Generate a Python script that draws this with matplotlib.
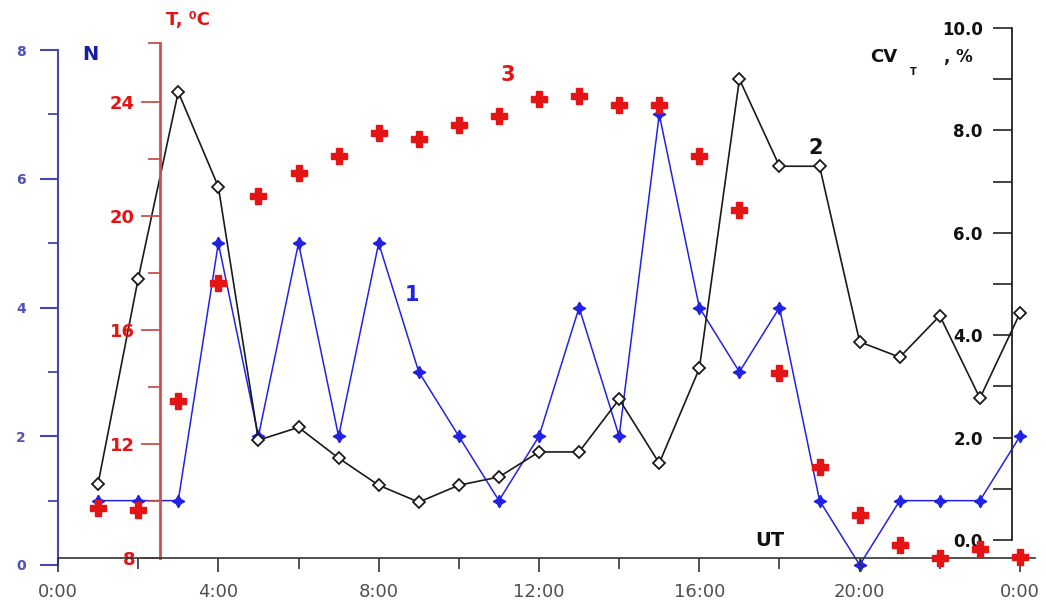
import numpy as np
import matplotlib
matplotlib.use('Agg')
from matplotlib import pyplot as plt

# hours UT
hours = np.arange(1, 25)
# 1: number N
n_vals = [1, 1, 1, 5, 2, 5, 2, 5, 3, 2, 1, 2, 4, 2, 7, 4, 3, 4, 1, 0, 1, 1, 1, 2]
# 2: CV_T, %
cv_vals = [1.1, 5.1, 8.75, 6.9, 1.95, 2.2, 1.6, 1.07, 0.74, 1.07, 1.23, 1.72,
           1.72, 2.75, 1.5, 3.35, 9.0, 7.3, 7.3, 3.87, 3.57, 4.38, 2.77, 4.43]
# 3: temperature T, C
t_vals = [9.75, 9.7, 13.5, 17.65, 20.7, 21.5, 22.1, 22.9, 22.7, 23.2, 23.5, 24.1,
          24.2, 23.9, 23.9, 22.1, 20.2, 14.5, 11.2, 9.5, 8.45, 8.0, 8.3, 8.05]

x_ticks = [0, 4, 8, 12, 16, 20, 24]
x_labels = ['0:00', '4:00', '8:00', '12:00', '16:00', '20:00', '0:00']

W, H = 1046, 610
BLUE = '#2222e6'
BLUE_AX = '#4848a8'
RED = '#e41414'
RED_AX = '#cc5050'


def px(x0, y0, x1, y1):
    # pixel box -> figure fraction [left, bottom, width, height]
    return [x0 / W, 1 - y1 / H, (x1 - x0) / W, (y1 - y0) / H]


fig = plt.figure(figsize=(W / 100, H / 100), dpi=100)

x_left, x_right = 58, 1035
x_max = 24 * (x_right - x_left) / (1020 - x_left)

# temperature axes carries the time axis
ax_t = fig.add_axes(px(x_left, 43, x_right, 558))
ax_n = fig.add_axes(px(x_left, 50, x_right, 565))
ax_cv = fig.add_axes(px(x_left, 28, x_right, 540))

for ax in (ax_t, ax_n, ax_cv):
    ax.set_xlim(0, x_max)
    ax.patch.set_visible(False)
    for s in ax.spines.values():
        s.set_visible(False)

ax_t.set_ylim(8, 8 + (558 - 43) / 28.5)
ax_n.set_ylim(0, 8)
ax_cv.set_ylim(0, 10)

# time axis
ax_t.spines['bottom'].set_visible(True)
ax_t.spines['bottom'].set_color('#333333')
ax_t.spines['bottom'].set_linewidth(1.2)
ax_t.set_xticks(x_ticks)
ax_t.set_xticklabels(x_labels, color='#505050', fontsize=13)
ax_t.set_xticks([2, 6, 10, 14, 18, 22], minor=True)
ax_t.tick_params(axis='x', which='major', direction='out', length=10, width=1.2,
                 color='#333333', pad=8)
ax_t.tick_params(axis='x', which='minor', direction='out', length=8, width=1.2,
                 color='#333333')

# temperature axis (red)
ax_t.spines['left'].set_visible(True)
ax_t.spines['left'].set_position(('axes', (160 - x_left) / (x_right - x_left)))
ax_t.spines['left'].set_color(RED_AX)
ax_t.spines['left'].set_linewidth(2)
ax_t.set_yticks([8, 12, 16, 20, 24])
ax_t.set_yticks([10, 14, 18, 22, 26.07], minor=True)
ax_t.set_yticklabels(['8', '12', '16', '20', '24'], color=RED, fontsize=13,
                     fontweight='bold')
ax_t.tick_params(axis='y', which='major', direction='out', length=14, width=1.3,
                 color=RED_AX, pad=4)
ax_t.tick_params(axis='y', which='minor', direction='out', length=9, width=1.3,
                 color=RED_AX)
ax_t.yaxis.set_minor_formatter(plt.NullFormatter())

# N axis (blue)
ax_n.spines['left'].set_visible(True)
ax_n.spines['left'].set_color(BLUE_AX)
ax_n.spines['left'].set_linewidth(1.5)
ax_n.set_xticks([])
ax_n.set_yticks([0, 2, 4, 6, 8])
ax_n.set_yticks([1, 3, 5, 7], minor=True)
ax_n.set_yticklabels(['0', '2', '4', '6', '8'], color='#5050b8', fontsize=10,
                     fontweight='bold')
ax_n.tick_params(axis='y', which='major', direction='out', length=13, width=1.5,
                 color=BLUE_AX, pad=10)
ax_n.tick_params(axis='y', which='minor', direction='out', length=7, width=1.3,
                 color=BLUE_AX)

# CV axis (black, right)
ax_cv.spines['right'].set_visible(True)
ax_cv.spines['right'].set_position(('axes', (1012 - x_left) / (x_right - x_left)))
ax_cv.spines['right'].set_color('#222222')
ax_cv.spines['right'].set_linewidth(1.3)
ax_cv.set_xticks([])
ax_cv.yaxis.set_ticks_position('right')
ax_cv.set_yticks([0, 2, 4, 6, 8, 10])
ax_cv.set_yticks([1, 3, 5, 7, 9], minor=True)
ax_cv.set_yticklabels(['0.0', '2.0', '4.0', '6.0', '8.0', '10.0'],
                      fontsize=12, fontweight='bold', color='#111111')
ax_cv.tick_params(axis='y', which='both', direction='in', length=14, width=1.2,
                  color='#222222', pad=-21, labelright=True)
for lbl in ax_cv.get_yticklabels():
    lbl.set_horizontalalignment('right')

# series
ax_n.plot(hours, n_vals, color=BLUE, lw=1.1, marker=(4, 1, 0), ms=9,
          mfc=BLUE, mec=BLUE, clip_on=False, zorder=3)
ax_cv.plot(hours, cv_vals, color='#1a1a1a', lw=1.2, marker='D', ms=6,
           mfc='white', mec='#1a1a1a', mew=1.3, clip_on=False, zorder=3)
ax_t.plot(hours, t_vals, ls='none', marker='P', ms=12, mfc=RED, mec=RED,
          clip_on=False, zorder=5)
ax_t.set_zorder(3)
ax_n.set_zorder(1)
ax_cv.set_zorder(2)

# labels
def ftext(x, y, s, **kw):
    fig.text(x / W, 1 - y / H, s, ha='center', va='center', fontweight='bold', **kw)

ftext(90, 55, 'N', color='#1a1aa8', fontsize=14)
ftext(188, 20, 'T, \u2070C', color=RED, fontsize=13)
ftext(884, 57, 'CV', color='#111111', fontsize=13)
ftext(913, 72, 'T', color='#111111', fontsize=7)
ftext(958, 57, ', %', color='#111111', fontsize=12)
ftext(412, 295, '1', color=BLUE, fontsize=15)
ftext(816, 148, '2', color='#111111', fontsize=15)
ftext(508, 75, '3', color=RED, fontsize=15)
ftext(770, 540, 'UT', color='#111111', fontsize=14)

fig.savefig('out.png', dpi=100, facecolor='white')
